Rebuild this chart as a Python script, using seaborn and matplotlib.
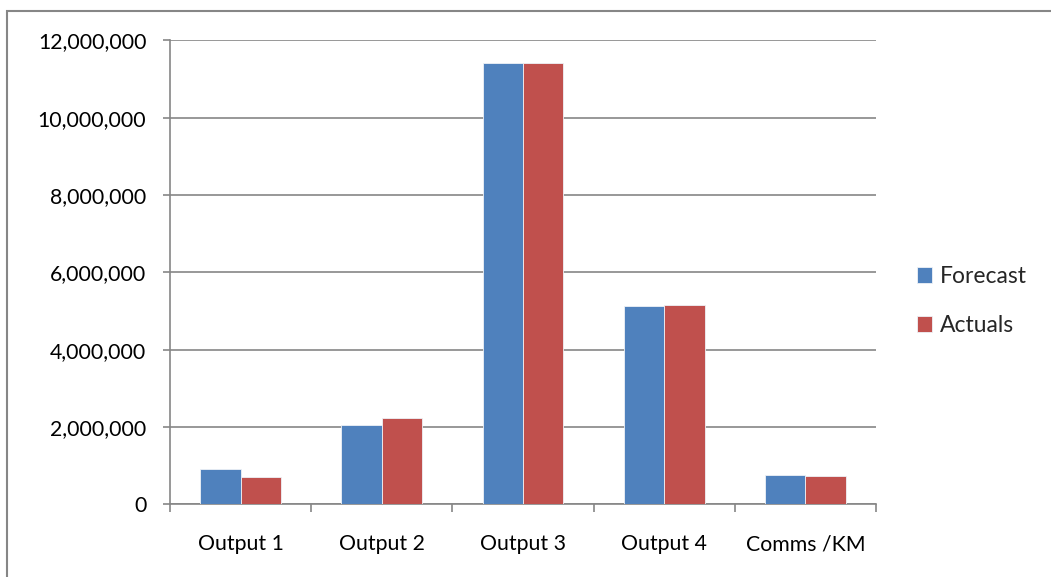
import matplotlib
matplotlib.use("Agg")
import matplotlib.pyplot as plt
from matplotlib.patches import Rectangle
from matplotlib.ticker import FuncFormatter, FixedLocator
import seaborn as sns
import pandas as pd

categories = ["Output 1", "Output 2", "Output 3", "Output 4", "Comms /KM"]
forecast = [920000, 2040000, 11410000, 5130000, 750000]
actuals = [705000, 2220000, 11420000, 5160000, 740000]
series_names = ["Forecast", "Actuals"]
y_ticks = [0, 2000000, 4000000, 6000000, 8000000, 10000000, 12000000]

df = pd.DataFrame({
    "category": categories * 2,
    "series": [series_names[0]] * len(categories) + [series_names[1]] * len(categories),
    "value": forecast + actuals,
})

sns.set_theme(style="white")
plt.rcParams["font.family"] = ["Lato", "DejaVu Sans"]

W, H = 1051, 577
fig = plt.figure(figsize=(W / 100, H / 100), dpi=100)
fig.patch.set_facecolor("white")

grid_col = "#868686"

# outer chart frame
fig.patches.append(Rectangle((7 / W, -0.05), 1.2, 1 - 11 / H + 0.05,
                             transform=fig.transFigure, fill=False,
                             edgecolor=grid_col, linewidth=1.5))

left, right, top, bottom = 170, 876, 40.3, 504.3
ax = fig.add_axes([left / W, 1 - bottom / H, (right - left) / W, (bottom - top) / H])

sns.barplot(data=df, x="category", y="value", hue="series",
            palette=["#4F81BD", "#C0504D"], saturation=1, width=0.571, gap=0,
            edgecolor="#eef2f7", linewidth=0.6, ax=ax, zorder=3)

ax.set_ylim(0, 12000000)
ax.set_xlim(-0.5, len(categories) - 0.5)
ax.set_yticks(y_ticks)
ax.yaxis.set_major_formatter(FuncFormatter(lambda v, p: f"{int(v):,}"))
ax.yaxis.grid(True, color=grid_col, linewidth=1.2, zorder=0)
ax.xaxis.grid(False)
ax.set_axisbelow(True)

for s in ["top", "right"]:
    ax.spines[s].set_visible(False)
for s in ["left", "bottom"]:
    ax.spines[s].set_color(grid_col)
    ax.spines[s].set_linewidth(1.2)

tick_fs = 15.3
ax.tick_params(axis="y", which="major", direction="out", length=5, width=1.2,
               color=grid_col, labelsize=tick_fs, labelcolor="black", pad=12, left=True)
ax.tick_params(axis="x", which="major", length=0, labelsize=tick_fs,
               labelcolor="black", pad=21.5, bottom=True)
ax.xaxis.set_minor_locator(FixedLocator([i - 0.5 for i in range(len(categories) + 1)]))
ax.tick_params(axis="x", which="minor", direction="out", length=6, width=1.2,
               color=grid_col, bottom=True)
ax.set_xlabel("")
ax.set_ylabel("")

handles, labels = ax.get_legend_handles_labels()
ax.get_legend().remove()
fig.legend(handles, labels, loc="center left",
           bbox_to_anchor=(896 / W, 1 - 301 / H), frameon=False,
           fontsize=16.5, handlelength=0.68, handleheight=0.68,
           handletextpad=0.35, labelspacing=1.2)

fig.savefig("out.png", dpi=100, facecolor="white")
